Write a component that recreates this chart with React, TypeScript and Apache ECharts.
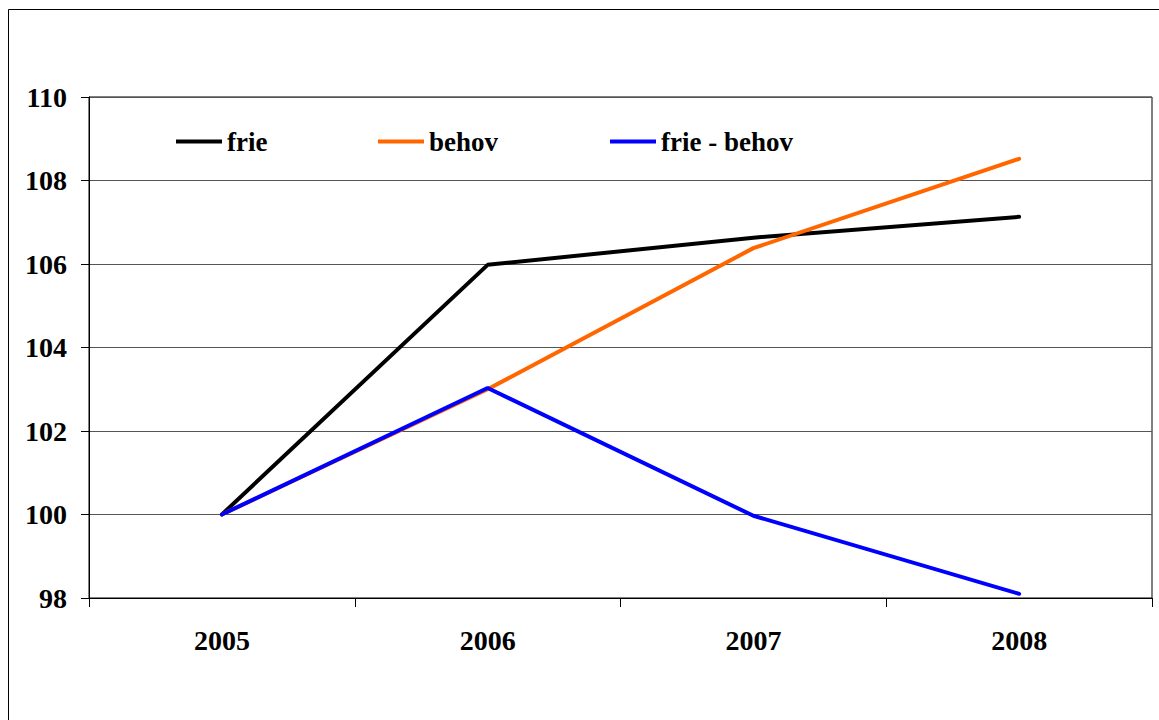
import React, { useEffect, useRef } from "react";
import * as echarts from "echarts";

const categories = ["2005", "2006", "2007", "2008"];
const frie = [100, 105.98, 106.63, 107.13];
const behov = [100, 103.0, 106.38, 108.52];
const frieMinusBehov = [100, 103.03, 99.97, 98.1];
const seriesNames = ["frie", "behov", "frie - behov"];
const seriesColors = ["#000000", "#FF6600", "#0000FF"];

const FONT = "Times New Roman, Liberation Serif, DejaVu Serif, serif";

export default function App() {
  const ref = useRef<HTMLDivElement>(null);
  useEffect(() => {
    if (!ref.current) return;
    const chart = echarts.init(ref.current, null, { renderer: "svg" });
    const values = [frie, behov, frieMinusBehov];
    const legendLefts = [171, 373, 605];
    chart.setOption({
      animation: false,
      backgroundColor: "#ffffff",
      textStyle: { fontFamily: FONT },
      grid: {
        left: 89,
        right: 7,
        top: 97,
        bottom: 122,
        show: true,
        borderColor: "#000",
        borderWidth: 1,
        backgroundColor: "transparent",
      },
      legend: seriesNames.map((n, i) => ({
        data: [n],
        left: legendLefts[i],
        top: 123,
        icon: "rect",
        itemWidth: 46,
        itemHeight: 4,
        textStyle: { fontFamily: FONT, fontWeight: "bold", fontSize: 27, color: "#000" },
      })),
      graphic: [
        {
          type: "rect",
          shape: { x: 8.5, y: 9.5, width: 1200, height: 800 },
          style: { fill: "none", stroke: "#000", lineWidth: 1 },
          silent: true,
        },
      ],
      xAxis: {
        type: "category",
        data: categories,
        boundaryGap: true,
        axisLine: { lineStyle: { color: "#000", width: 1 } },
        axisTick: { show: true, length: 9, lineStyle: { color: "#000" } },
        axisLabel: { margin: 28, fontFamily: FONT, fontWeight: "bold", fontSize: 28, color: "#000" },
        splitLine: { show: false },
      },
      yAxis: {
        type: "value",
        min: 98,
        max: 110,
        interval: 2,
        axisLine: { show: true, lineStyle: { color: "#000", width: 1 } },
        axisTick: { show: true, length: 8, lineStyle: { color: "#000" } },
        axisLabel: { margin: 22, fontFamily: FONT, fontWeight: "bold", fontSize: 28, color: "#000" },
        splitLine: { show: true, lineStyle: { color: "#555", width: 1 } },
      },
      series: seriesNames.map((n, i) => ({
        name: n,
        type: "line",
        data: values[i],
        showSymbol: false,
        symbol: "none",
        lineStyle: { color: seriesColors[i], width: 4, cap: "round" },
        itemStyle: { color: seriesColors[i] },
        z: 2 + i,
      })),
    });
    return () => chart.dispose();
  }, []);
  return (
    <div
      ref={ref}
      style={{ position: "fixed", left: 0, top: 0, width: 1159, height: 720 }}
    />
  );
}
